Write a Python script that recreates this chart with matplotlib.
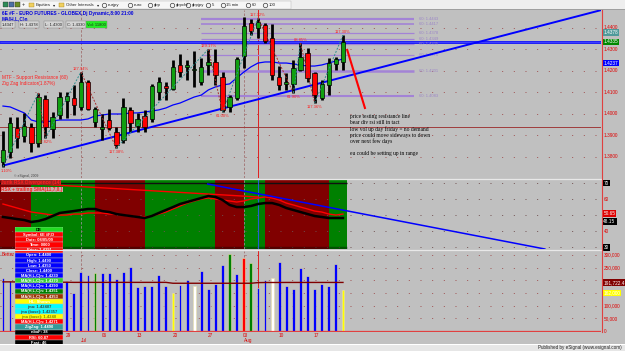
import matplotlib
matplotlib.use("Agg")
import matplotlib.pyplot as plt
from matplotlib.patches import Rectangle
from matplotlib.lines import Line2D
import numpy as np
import pandas as pd

plt.rcParams['font.family'] = ['Liberation Sans', 'DejaVu Sans']

# ---------------- data ----------------
dates = pd.bdate_range("2009-06-16", "2009-08-21")

opens = [1.3778, 1.3823, 1.3935, 1.3898, 1.3940, 1.3865, 1.4070, 1.3930, 1.3995, 1.4060,
         1.4074, 1.4033, 1.4149, 1.3963, 1.3930, 1.3972, 1.3916, 1.3879, 1.4019, 1.3944,
         1.3991, 1.3977, 1.4102, 1.4130, 1.4116, 1.4228, 1.4219, 1.4205, 1.4149, 1.4228,
         1.4242, 1.4172, 1.4033, 1.4074, 1.4270, 1.4423, 1.4400, 1.4414, 1.4353, 1.4172,
         1.4140, 1.4140, 1.4205, 1.4284, 1.4191, 1.4074, 1.4135, 1.4233, 1.4242]
highs = [1.3922, 1.3986, 1.3986, 1.4005, 1.3958, 1.4098, 1.4088, 1.4009, 1.4102, 1.4102,
         1.4135, 1.4195, 1.4158, 1.4033, 1.4000, 1.4023, 1.3940, 1.4074, 1.4033, 1.4005,
         1.4019, 1.4140, 1.4172, 1.4149, 1.4251, 1.4279, 1.4251, 1.4293, 1.4260, 1.4302,
         1.4302, 1.4195, 1.4088, 1.4265, 1.4451, 1.4442, 1.4447, 1.4423, 1.4419, 1.4223,
         1.4191, 1.4251, 1.4330, 1.4307, 1.4195, 1.4158, 1.4260, 1.4265, 1.4367]
lows = [1.3755, 1.3795, 1.3842, 1.3870, 1.3823, 1.3847, 1.3888, 1.3888, 1.3977, 1.3981,
        1.3995, 1.4019, 1.4019, 1.3940, 1.3879, 1.3926, 1.3842, 1.3865, 1.3916, 1.3916,
        1.3916, 1.3963, 1.4065, 1.4065, 1.4112, 1.4172, 1.4158, 1.4126, 1.4135, 1.4181,
        1.4135, 1.4009, 1.4009, 1.4065, 1.4214, 1.4367, 1.4353, 1.4330, 1.4158, 1.4112,
        1.4112, 1.4098, 1.4200, 1.4149, 1.4051, 1.4065, 1.4088, 1.4205, 1.4205]
closes = [1.3833, 1.3958, 1.3888, 1.3944, 1.3865, 1.4079, 1.3940, 1.3986, 1.4079, 1.4084,
          1.4042, 1.4149, 1.4023, 1.4023, 1.3940, 1.3935, 1.3856, 1.4033, 1.3958, 1.3977,
          1.3940, 1.4130, 1.4149, 1.4121, 1.4219, 1.4195, 1.4228, 1.4209, 1.4219, 1.4242,
          1.4181, 1.4019, 1.4079, 1.4256, 1.4409, 1.4386, 1.4428, 1.4340, 1.4181, 1.4135,
          1.4149, 1.4214, 1.4265, 1.4167, 1.4088, 1.4140, 1.4237, 1.4256, 1.4335]
ma_price = [1.4037, 1.4033, 1.4019, 1.4005, 1.3972, 1.3963, 1.3963, 1.3968, 1.3972, 1.3972,
            1.3972, 1.3972, 1.3977, 1.3991, 1.3995, 1.4000, 1.4000, 1.4000, 1.4005, 1.4005,
            1.4009, 1.4014, 1.4019, 1.4028, 1.4042, 1.4051, 1.4065, 1.4079, 1.4088, 1.4112,
            1.4126, 1.4135, 1.4140, 1.4168, 1.4195, 1.4219, 1.4237, 1.4242, 1.4242, 1.4237,
            1.4237, 1.4233, 1.4228, 1.4223, 1.4223, 1.4228, 1.4237, 1.4247, 1.4256]

price_ticks = [1.38, 1.39, 1.40, 1.41, 1.42, 1.43, 1.44]
resistance_level = 1.4335
red_level = 1.3940
trend_idx = [0, 84.3]
trend_price = [1.3760, 1.4482]
sr_levels = [1.4443, 1.4417, 1.4378, 1.4349, 1.4325, 1.4276, 1.4201, 1.4083]
sr_start = 28
sr_end = 58
zz_idx = [0, 5, 6, 11, 16, 29, 31, 36, 41, 42, 44, 48]
zz_kind = ['L', 'H', 'L', 'H', 'L', 'H', 'L', 'H', 'L', 'H', 'L', 'H']
zz_labels = ['1.10%', '', '62.82%', '127.94%', '117.38%', '129.17%', '61.00%',
             '117.32%', '61.90%', '88.85%', '117.36%', '117.30%']
dashed_marks = [11, 34]
cursor_mark = 36
arrow_idx = [48.6, 51.1]
arrow_price = [1.4298, 1.4028]
price_boxes = [1.4378, 1.4335, 1.4237]

rsx = [48.8, 48.15, 47.5, 46.9, 45.65, 46.3, 47.5, 49.4, 51.3, 51.9,
       52.5, 53.15, 53.8, 53.8, 52.5, 51.9, 50.65, 50.0, 49.4, 48.8,
       48.15, 49.4, 51.3, 53.15, 55.0, 56.9, 58.15, 59.4, 60.65, 61.9,
       61.3, 59.4, 56.3, 55.0, 55.0, 55.65, 56.9, 57.5, 57.5, 56.3,
       54.4, 53.15, 51.9, 50.65, 49.4, 48.8, 48.15, 48.15, 48.15]
rsx_sma = [56.9, 55.65, 54.4, 53.15, 51.9, 51.3, 50.65, 50.0, 50.0, 50.0,
           50.65, 50.65, 51.3, 51.3, 51.3, 50.65, 50.65, 50.0, 49.4, 48.8,
           48.8, 49.4, 50.65, 51.9, 53.8, 55.65, 57.5, 58.8, 60.0, 60.65,
           60.0, 59.4, 58.8, 58.15, 58.8, 60.0, 60.65, 61.3, 60.65, 59.4,
           57.5, 56.3, 55.0, 53.8, 52.5, 51.9, 50.65, 50.0, 50.65]
rsi_band_edges = [-0.5, 4, 13, 20, 30, 34, 37, 46, 48.5]
rsi_band_state = ['bear', 'bull', 'bear', 'bull', 'bear', 'bull', 'bear', 'bull']
red_div_idx = [0, 36]
red_div_val = [70.65, 61.3]
blue_div_idx = [28.9, 76.5]
blue_div_val = [69.4, 28.8]

volume = [209000, 198000, 190000, 215000, 180000, 240000, 220000, 170000, 200000, 198000,
          151000, 234000, 221000, 230000, 230000, 230000, 207000, 234000, 254000, 175000,
          179000, 179000, 222000, 179000, 151000, 182000, 202000, 179000, 238000, 167000,
          185000, 261000, 302000, 225000, 287000, 270000, 169000, 202000, 208000, 274000,
          178000, 167000, 250000, 217000, 167000, 186000, 178000, 265000, 162000]
volume_kind = ['b'] * 49
for _i, _k in [(13, 'g'), (24, 'y'), (27, 'w'), (32, 'g'), (34, 'r'), (35, 'g'), (38, 'w'), (48, 'y')]:
    volume_kind[_i] = _k
vol_ma = [194000, 194000, 193500, 193500, 193000, 193000, 193000, 192500, 192500, 192500,
          192000, 192000, 192000, 192000, 192000, 192000, 192000, 192000, 192000, 192000,
          192000, 192000, 192000, 192000, 188500, 188500, 188500, 188500, 188500, 188500,
          188500, 188500, 188500, 188500, 188500, 188500, 191000, 191500, 191500, 191500,
          191700, 191700, 191700, 191700, 191700, 191700, 191700, 191700, 191722]
vol_ticks = [0, 50000, 100000, 150000, 200000, 250000, 300000]
vol_ticks_shown = [0, 50000, 100000, 250000, 300000]

table_rows = ["DB", "Symbol: 6E #F,D", "Date: 08/05/09", "Time: 0000", "Price: 1.4391",
              "Open: 1.4400", "High: 1.4490", "Low: 1.4350", "Close: 1.4400",
              "MA(H,L,C)n: 1.4230", "MA(H,L,C)n: 1.4370", "MA(H,L,C)n: 1.4390",
              "MA(H,L,C)n: 1.4351", "MA(H,L,C)n: 1.4353", "HL: Shown", "jma: 1.42407",
              "jma (base): 1.42357", "jma (base): 1.4240", "MA(H,L,C)n: 1.4271",
              "ZigZag: 1.4490", "nbaF: 38", "RSI: 60.87", "Fast: 46"]

# ---------------- styles ----------------
table_bg = ['#22dd22', '#ff0000', '#ff0000', '#ff0000', '#ff0000',
            '#0000ff', '#0000ff', '#0000ff', '#0000ff', '#0000ff', '#33cc33', '#0000ff',
            '#008000', '#993300', '#ffff00', '#00ffff', '#00ffff', '#ffff00', '#ff0000',
            '#339999', '#000000', '#ff0000', '#000000']
table_fg = ['#000000'] + ['#ffffff'] * 13 + ['#ffffff', '#404040', '#404040', '#808000'] + ['#ffffff'] * 5
sr_lw = [1.6, 1.2, 0.9, 0.9, 0.9, 0.9, 1.8, 1.5]
vcol = {'b': '#0000ff', 'g': '#008000', 'r': '#ff0000', 'w': '#ffffff', 'y': '#ffff00'}
BG = '#c0c0c0'
GREEN = '#10a010'
RED = '#ff0000'
DOT = (0, (1, 11))

W, H = 625, 351
fig = plt.figure(figsize=(W / 100, H / 100), dpi=100)
fig.patch.set_facecolor(BG)


def rect(x0, y0, x1, y1):
    return [x0 / W, 1 - y1 / H, (x1 - x0) / W, (y1 - y0) / H]


def panel(x0, y0, x1, y1, bg=BG):
    ax = fig.add_axes(rect(x0, y0, x1, y1))
    ax.set_facecolor(bg)
    for s in ax.spines.values():
        s.set_visible(False)
    ax.set_xticks([])
    ax.set_yticks([])
    return ax


def ftext(px, py, s, **kw):
    fig.text(px / W, 1 - py / H, s, **kw)


XL = (-0.42, 84.43)
PX_PER_BAR = 601 / (XL[1] - XL[0])
n = len(dates)
x = np.arange(n)
o, h, l, c = map(np.array, (opens, highs, lows, closes))

# ---------------- price panel ----------------
axp = panel(0, 10, 601, 178)
axp.set_xlim(XL)
axp.set_ylim(1.37023, 1.44837)
for t in price_ticks:
    axp.axhline(t, color='#a05050', lw=0.7, ls=DOT, zorder=1)
for m in dashed_marks:
    axp.axvline(m, color='#a07070', lw=0.6, ls=(0, (3, 2)), zorder=1)
axp.axvline(cursor_mark, color='#e02020', lw=0.7, zorder=1)
axp.axhline(red_level, color='#a03c3c', lw=0.7, zorder=2)
for lev, lw in zip(sr_levels, sr_lw):
    axp.hlines(lev, sr_start, sr_end, color='#a383d6', lw=lw, zorder=2)
    axp.annotate(f"60: {lev:.4f}", (sr_end, lev), xytext=(4, 0), textcoords='offset points',
                 fontsize=3.0, color='#9c86c8', va='center', ha='left')
axp.axhline(resistance_level, color='#0000ff', lw=1.9, zorder=2)
axp.axhline(resistance_level, color='#7070ff', lw=0.4, zorder=2)
axp.plot(x, ma_price, color='#0000ff', lw=0.9, zorder=3)
axp.plot(trend_idx, trend_price, color='#0000ff', lw=1.4, zorder=3)

axp.vlines(x, l, h, color='black', lw=2.0, zorder=4)
up = c >= o
body_col = np.where(up, GREEN, RED)
axp.bar(x, np.maximum(np.abs(c - o), 0.0003), bottom=np.minimum(o, c), width=0.62,
        color=body_col, edgecolor='black', linewidth=0.5, zorder=5)

zz_price = [lows[i] if k == 'L' else highs[i] for i, k in zip(zz_idx, zz_kind)]
for a in range(len(zz_idx) - 1):
    col = '#2f8f8f' if zz_kind[a] == 'L' else '#a83030'
    axp.plot(zz_idx[a:a + 2], zz_price[a:a + 2], color=col, lw=0.7, ls=(0, (2, 1.5)), zorder=6)
for i, k, p, lab in zip(zz_idx, zz_kind, zz_price, zz_labels):
    if not lab:
        continue
    dy = 1.0 if k == 'H' else -1.5
    first = (i == 0)
    axp.annotate(lab, (i, p), xytext=(-1.5 if first else 0, dy), textcoords='offset points',
                 fontsize=3.0, color='#ff2020', ha='left' if first else 'center',
                 va='bottom' if k == 'H' else 'top', zorder=7)
axp.plot(arrow_idx, arrow_price, color='#ff0000', lw=1.5, zorder=7)

ytr = axp.get_yaxis_transform()
for t in price_ticks:
    axp.text(1.005, t, f"{t:.4f}", transform=ytr, fontsize=3.4, color='#e00000',
             va='center', ha='left', clip_on=False)
for val, bc in zip(price_boxes, ['#4f9a9a', '#008800', '#0000ff']):
    axp.text(1.004, val, f"{val:.4f}", transform=ytr, fontsize=3.4, color='white',
             va='center', ha='left', clip_on=False,
             bbox=dict(boxstyle='square,pad=0.2', fc=bc, ec='none'))

# header texts
ftext(2, 13, "6E #F - EURO FUTURES - GLOBEX,Dj Dynamic,8:00 21:00", fontsize=3.4,
      color='#0000dd', weight='bold', va='center')
ftext(2, 19, "MA(H,L,C)n", fontsize=3.4, color='#0000dd', weight='bold', va='center')
for px, s, bc in [(2, "1.4347", '#d4d4d4'), (20, "H: 1.4378", '#d4d4d4'),
                  (45, "L: 1.4300", '#d4d4d4'), (67, "C: 1.4330", '#d4d4d4'),
                  (87, "Vol: 11800", '#22ee22')]:
    ftext(px, 24.5, s, fontsize=3.0, color='#202020', va='center',
          bbox=dict(boxstyle='square,pad=0.25', fc=bc, ec='#808080', lw=0.3))
ftext(2, 78, "MTF - Support Resistance (60)", fontsize=3.4, color='#ff2020', va='center')
ftext(2, 84, "Zig Zag Indicator(1.87%)", fontsize=3.4, color='#ff2020', va='center')
ftext(14, 176.5, "\u00a9 eSignal, 2009", fontsize=2.4, color='#404040', va='center')

notes = [(117, "price testing resistance line"), (123, "bear div rsi still in tact"),
         (129, "low vol up day friday = no demand"), (135, "price could move sideways to down"),
         (141, "over next few days"), (153, "eu could be setting up in range")]
for py, s in notes:
    ftext(350, py, s, fontsize=4.0, family='Liberation Serif', color='black', va='center')

# ---------------- RSI panel ----------------
axr = panel(0, 180, 601, 249)
axr.set_xlim(XL)
axr.set_ylim(28.8, 71.9)
for k, st in enumerate(rsi_band_state):
    axr.axvspan(rsi_band_edges[k], rsi_band_edges[k + 1],
                color='#800000' if st == 'bear' else '#008000', lw=0, zorder=1)
for t in [30, 40, 50, 60, 70]:
    axr.axhline(t, color='#705050', lw=0.7, ls=DOT, zorder=2)
axr.hlines(70, -0.5, 48.5, color='#101010', lw=1.0, zorder=2)
axr.hlines(29.6, -0.5, 48.5, color='black', lw=2.5, alpha=0.35, zorder=2)
for m in dashed_marks:
    axr.axvline(m, color='#909090', lw=0.6, ls=(0, (3, 2)), zorder=2)
axr.axvline(cursor_mark, color='#2060d0', lw=0.8, zorder=2)
axr.plot(red_div_idx, red_div_val, color='#ff0000', lw=1.0, zorder=3)
axr.plot(x, rsx_sma, color='#ff0000', lw=1.0, zorder=4)
axr.plot(x, rsx, color='black', lw=1.8, zorder=4)
axr.plot(blue_div_idx, blue_div_val, color='#0000ff', lw=1.1, zorder=5)
rtr = axr.get_yaxis_transform()
for t in [60, 40]:
    axr.text(1.005, t, str(t), transform=rtr, fontsize=3.4, color='#e00000', va='center',
             ha='left', clip_on=False)
for t in [70, 30]:
    axr.text(1.005, t, str(t), transform=rtr, fontsize=3.4, color='white', va='center',
             ha='left', clip_on=False, bbox=dict(boxstyle='square,pad=0.2', fc='black', ec='none'))
axr.text(1.004, rsx_sma[-1] + 0.6, f"{rsx_sma[-1]:.2f}", transform=rtr, fontsize=3.4, color='white',
         va='center', ha='left', clip_on=False, bbox=dict(boxstyle='square,pad=0.2', fc='#dd0000', ec='none'))
axr.text(1.004, rsx[-1] - 2.0, f"{rsx[-1]:.2f}", transform=rtr, fontsize=3.4, color='white',
         va='center', ha='left', clip_on=False, bbox=dict(boxstyle='square,pad=0.2', fc='black', ec='none'))
ftext(1, 182.5, "Jurik RSX Divergence (14)", fontsize=3.4, color='#ff2020', weight='bold', va='center',
      bbox=dict(boxstyle='square,pad=0.1', fc='#a02020', ec='none'))
ftext(1, 189.5, "RSX + trailing SMA(11,7,0,)", fontsize=3.4, color='#ff2020', weight='bold', va='center',
      bbox=dict(boxstyle='square,pad=0.1', fc='#c8b0b0', ec='none'))

# ---------------- volume panel ----------------
axv = panel(0, 251, 601, 332)
axv.set_xlim(XL)
axv.set_ylim(-3900, 315800)
for t in vol_ticks[1:]:
    axv.axhline(t, color='#a05050', lw=0.7, ls=DOT, zorder=1)
for m in dashed_marks:
    axv.axvline(m, color='#a07070', lw=0.6, ls=(0, (3, 2)), zorder=1)
axv.axvline(cursor_mark, color='#e02020', lw=0.7, zorder=1)
axv.bar(x, volume, width=0.4, color=[vcol[k] for k in volume_kind], edgecolor='#e8dfa8',
        linewidth=0.4, zorder=3)
axv.plot(x, vol_ma, color='#800000', lw=1.0, zorder=4)
axv.axhline(0, color='#e04040', lw=0.9, zorder=4)
vtr = axv.get_yaxis_transform()
for t in vol_ticks_shown:
    axv.text(1.005, t, f"{t:,}", transform=vtr, fontsize=3.4, color='#e00000', va='center',
             ha='left', clip_on=False)
axv.text(1.004, vol_ma[-1], f"{vol_ma[-1]:,}.4", transform=vtr, fontsize=3.4, color='white',
         va='center', ha='left', clip_on=False, bbox=dict(boxstyle='square,pad=0.2', fc='#800000', ec='none'))
axv.text(1.004, volume[-1] - 12000, f"{volume[-1]:,}", transform=vtr, fontsize=3.4, color='white',
         va='center', ha='left', clip_on=False, bbox=dict(boxstyle='square,pad=0.2', fc='#ffff00', ec='none'))
ftext(2, 254.5, "Better", fontsize=3.4, color='#e00000', va='center')

# date labels (those under the data window are hidden, as in the source)
xtr = axv.get_xaxis_transform()
prev_month = dates[0].month
for i, d in enumerate(dates):
    px = (i - XL[0]) * PX_PER_BAR
    hidden = 12 < px < 66
    if d.weekday() == 0 and not hidden:
        axv.text(i - 0.1, -0.04, f"{d.day:02d}", transform=xtr, fontsize=3.4, color='#e00000',
                 ha='left', va='center', clip_on=False)
    if d.month != prev_month and not hidden:
        axv.text(i, -0.11, d.strftime('%b'), transform=xtr, fontsize=3.4, color='#e00000',
                 ha='left', va='center', clip_on=False)
    prev_month = d.month

# separators and borders
for py, col, lw in [(178.8, '#e8e8e8', 0.9), (250.2, '#e8e8e8', 0.9)]:
    fig.add_artist(Line2D([0, 602 / W], [1 - py / H] * 2, color=col, lw=lw))
fig.add_artist(Line2D([601.5 / W] * 2, [1 - 10 / H, 1 - 332 / H], color='#e04040', lw=0.8))

# ---------------- data window table ----------------
axt = panel(15, 227, 63, 345)
axt.set_xlim(0, 1)
axt.set_ylim(len(table_rows), 0)
for r, (s, bc, fc) in enumerate(zip(table_rows, table_bg, table_fg)):
    axt.add_patch(Rectangle((0, r), 1, 1, fc=bc, ec='#c0c0c0', lw=0.3))
    axt.text(0.5, r + 0.55, s, fontsize=2.9, color=fc, ha='center', va='center', weight='bold')

# ---------------- footer ----------------
axf = panel(0, 344, 625, 351, bg='#e6e6e6')
axf.set_xlim(0, W)
axf.set_ylim(0, 1)
axf.axhline(1, color='white', lw=0.8)
axf.text(622, 0.45, "Published by eSignal (www.esignal.com)", fontsize=3.3, color='#202020',
         ha='right', va='center')

# ---------------- toolbar ----------------
axb = panel(0, 0, 625, 9.5, bg='#eeeeee')
axb.set_xlim(0, W)
axb.set_ylim(9.5, 0)
axb.axhline(9.3, color='#909090', lw=0.6)
axb.add_patch(Rectangle((1, 1), 290, 7.6, fc='#f6f6f6', ec='#b0b0b0', lw=0.3))
for px, fc in [(3, '#2e8b57'), (9, '#4a6fa5'), (15, '#6b8e23')]:
    axb.add_patch(Rectangle((px, 2.2), 4.5, 4.8, fc=fc, ec='#303030', lw=0.3))
axb.text(23.5, 4.8, "+", fontsize=4, color='#202020', ha='center', va='center')
for px in [29, 59]:
    axb.add_patch(Rectangle((px, 2.5), 5, 4.2, fc='#f0d060', ec='#a08020', lw=0.3))
for px, s in [(36, "Equities"), (53, "\u25be"), (66, "Other Intervals"), (97, "\u25be")]:
    axb.text(px, 4.8, s, fontsize=3.1, color='#202020', ha='left', va='center')
for cx, s in [(104, "eurjpy"), (130, "euro"), (150, "gbp"), (172, "gbpchf"), (188, "gbpjpy"),
              (208, "5"), (223, "15 min"), (248, "60"), (265, "100")]:
    axb.plot(cx, 4.8, 'o', ms=3.2, mfc='none', mec='#404040', mew=0.5)
    axb.text(cx + 3.5, 4.8, s, fontsize=3.1, color='#202020', ha='left', va='center')

fig.savefig("out.png", dpi=100, facecolor=fig.get_facecolor())
